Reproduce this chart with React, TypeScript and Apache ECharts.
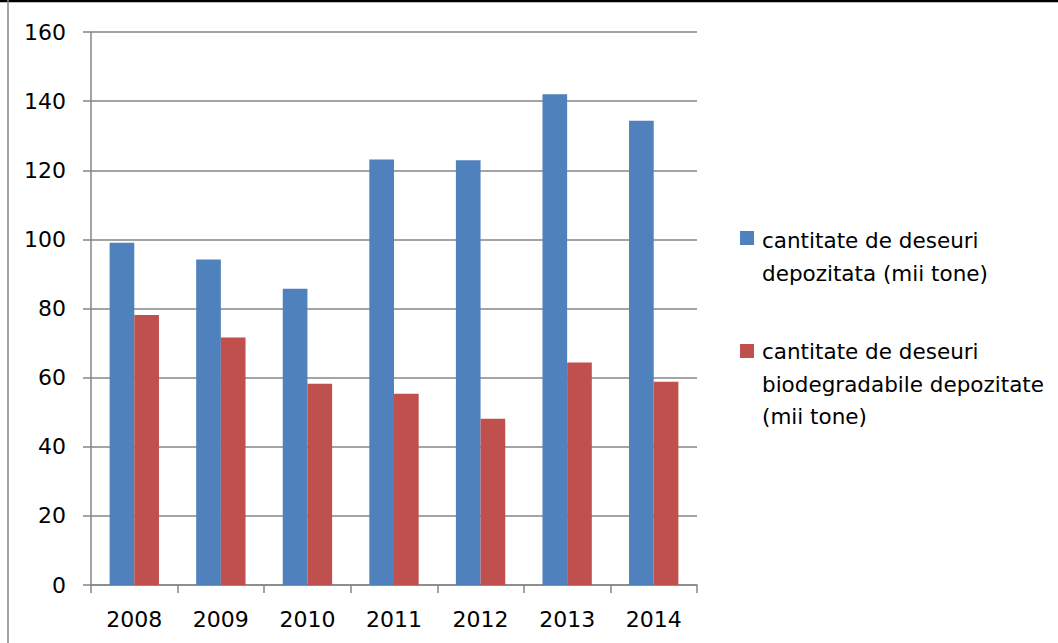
import React, { useEffect, useRef } from "react";
import * as echarts from "echarts";

const years = ["2008", "2009", "2010", "2011", "2012", "2013", "2014"];
const depozitata = [99.0, 94.2, 85.7, 123.1, 122.9, 142.0, 134.3];
const biodegradabile = [78.1, 71.6, 58.2, 55.3, 48.1, 64.4, 58.8];
const seriesNames = [
  "cantitate de deseuri\ndepozitata (mii tone)",
  "cantitate de deseuri\nbiodegradabile depozitate\n(mii tone)",
];
const colors = ["#4F81BD", "#C0504D"];
const FONT = "DejaVu Sans";

export default function App() {
  const ref = useRef<HTMLDivElement>(null);
  useEffect(() => {
    if (!ref.current) return;
    const chart = echarts.init(ref.current, undefined, { renderer: "svg" });
    const gridColor = "#868686";
    chart.setOption({
      animation: false,
      backgroundColor: "#ffffff",
      grid: { left: 91, right: 361, top: 32, bottom: 58, containLabel: false },
      xAxis: {
        type: "category",
        data: years,
        axisLine: { show: true, lineStyle: { color: gridColor, width: 1.5 } },
        axisTick: { show: true, length: 8, lineStyle: { color: gridColor, width: 1.5 } },
        axisLabel: { color: "#000", fontFamily: FONT, fontSize: 22, margin: 23 },
      },
      yAxis: {
        type: "value",
        min: 0,
        max: 160,
        interval: 20,
        axisLine: { show: true, lineStyle: { color: gridColor, width: 1.5 } },
        axisTick: { show: true, length: 8, lineStyle: { color: gridColor, width: 1.5 } },
        axisLabel: { color: "#000", fontFamily: FONT, fontSize: 22, margin: 25 },
        splitLine: { show: true, lineStyle: { color: gridColor, width: 1.5 } },
      },
      series: [
        {
          name: seriesNames[0],
          type: "bar",
          data: depozitata,
          itemStyle: { color: colors[0] },
          barGap: "0%",
          barCategoryGap: "43%",
        },
        {
          name: seriesNames[1],
          type: "bar",
          data: biodegradabile,
          itemStyle: { color: colors[1] },
          barGap: "0%",
          barCategoryGap: "43%",
        },
      ],
      graphic: [
        { type: "line", shape: { x1: 0, y1: 1, x2: 1058, y2: 1 }, style: { stroke: "#000", lineWidth: 2.5 } },
        { type: "line", shape: { x1: 8, y1: 0, x2: 8, y2: 643 }, style: { stroke: "#868686", lineWidth: 1.5 } },
        { type: "rect", shape: { x: 740, y: 231, width: 14, height: 14 }, style: { fill: colors[0] } },
        {
          type: "text",
          x: 762,
          y: 223.5,
          style: {
            text: seriesNames[0],
            font: `21.5px "${FONT}"`,
            fill: "#000",
            lineHeight: 33,
            verticalAlign: "top",
            align: "left",
          },
        },
        { type: "rect", shape: { x: 740, y: 344, width: 14, height: 14 }, style: { fill: colors[1] } },
        {
          type: "text",
          x: 762,
          y: 335.5,
          style: {
            text: seriesNames[1],
            font: `21.5px "${FONT}"`,
            fill: "#000",
            lineHeight: 32.5,
            verticalAlign: "top",
            align: "left",
          },
        },
      ],
    });
    return () => chart.dispose();
  }, []);
  return (
    <div
      ref={ref}
      style={{ position: "absolute", left: 0, top: 0, width: 1058, height: 643 }}
    />
  );
}
